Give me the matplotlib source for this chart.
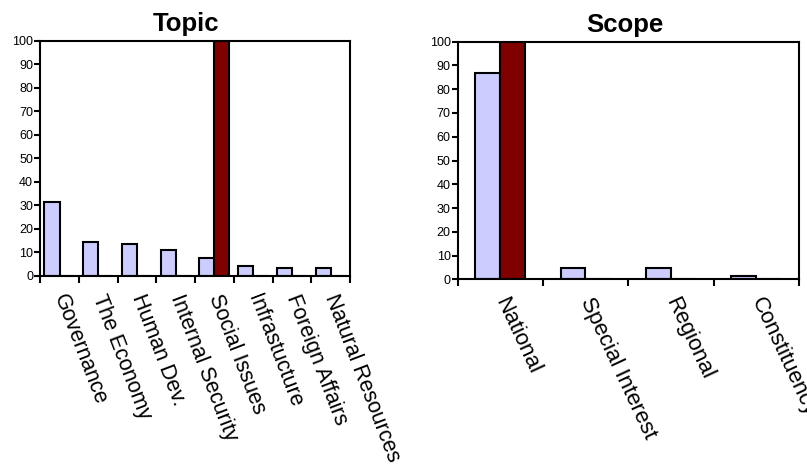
import matplotlib.pyplot as plt
import numpy as np

plt.rcParams['font.family'] = ['Liberation Sans', 'DejaVu Sans']

topic_names = ['Governance', 'The Economy', 'Human Dev.', 'Internal Security',
               'Social Issues', 'Infrastucture', 'Foreign Affairs', 'Natural Resources']
topic_a = [31.3, 14.2, 13.4, 10.9, 7.7, 4.1, 3.4, 3.4]
topic_b = [0, 0, 0, 0, 100, 0, 0, 0]

scope_names = ['National', 'Special Interest', 'Regional', 'Constituency']
scope_a = [86.7, 4.9, 4.9, 1.4]
scope_b = [100, 0, 0, 0]

light = '#CCCCFF'
dark = '#800000'


def panel(ax, title, title_x, names, a, b, width, off_a, off_b, rot, label_size):
    x = np.arange(len(names))
    ax.bar(x + off_a, a, width, color=light, edgecolor='black', linewidth=1.5)
    ax.bar(x + off_b, b, width, color=dark, edgecolor='black', linewidth=1.5)
    ax.set_xlim(-0.5, len(names) - 0.5)
    ax.set_ylim(0, 100)
    ax.set_yticks(range(0, 101, 10))
    ax.set_xticks(x)
    ax.set_xticklabels(names, rotation=rot, ha='left', va='center',
                       rotation_mode='anchor', fontsize=label_size)
    ax.set_xticks(np.arange(len(names) + 1) - 0.5, minor=True)
    ax.tick_params(axis='x', which='major', length=0, pad=14)
    ax.tick_params(axis='x', which='minor', length=5, width=1.5, direction='out')
    ax.tick_params(axis='y', length=4, width=1.5, labelsize=9, pad=1)
    for s in ax.spines.values():
        s.set_linewidth(1.5)
    ax.set_title(title, fontsize=18.5, fontweight='bold', pad=7, x=title_x)


fig = plt.figure(figsize=(8.07, 4.68), dpi=100)
ax1 = fig.add_axes([0.0496, 0.4109, 0.3841, 0.5015])
ax2 = fig.add_axes([0.5672, 0.4032, 0.4229, 0.5077])

panel(ax1, 'Topic', 0.47, topic_names, topic_a, topic_b, 0.39, -0.19, 0.19, -69, 15.5)
panel(ax2, 'Scope', 0.489, scope_names, scope_a, scope_b, 0.29, -0.15, 0.14, -65, 16)

fig.savefig('out.png', dpi=100)
